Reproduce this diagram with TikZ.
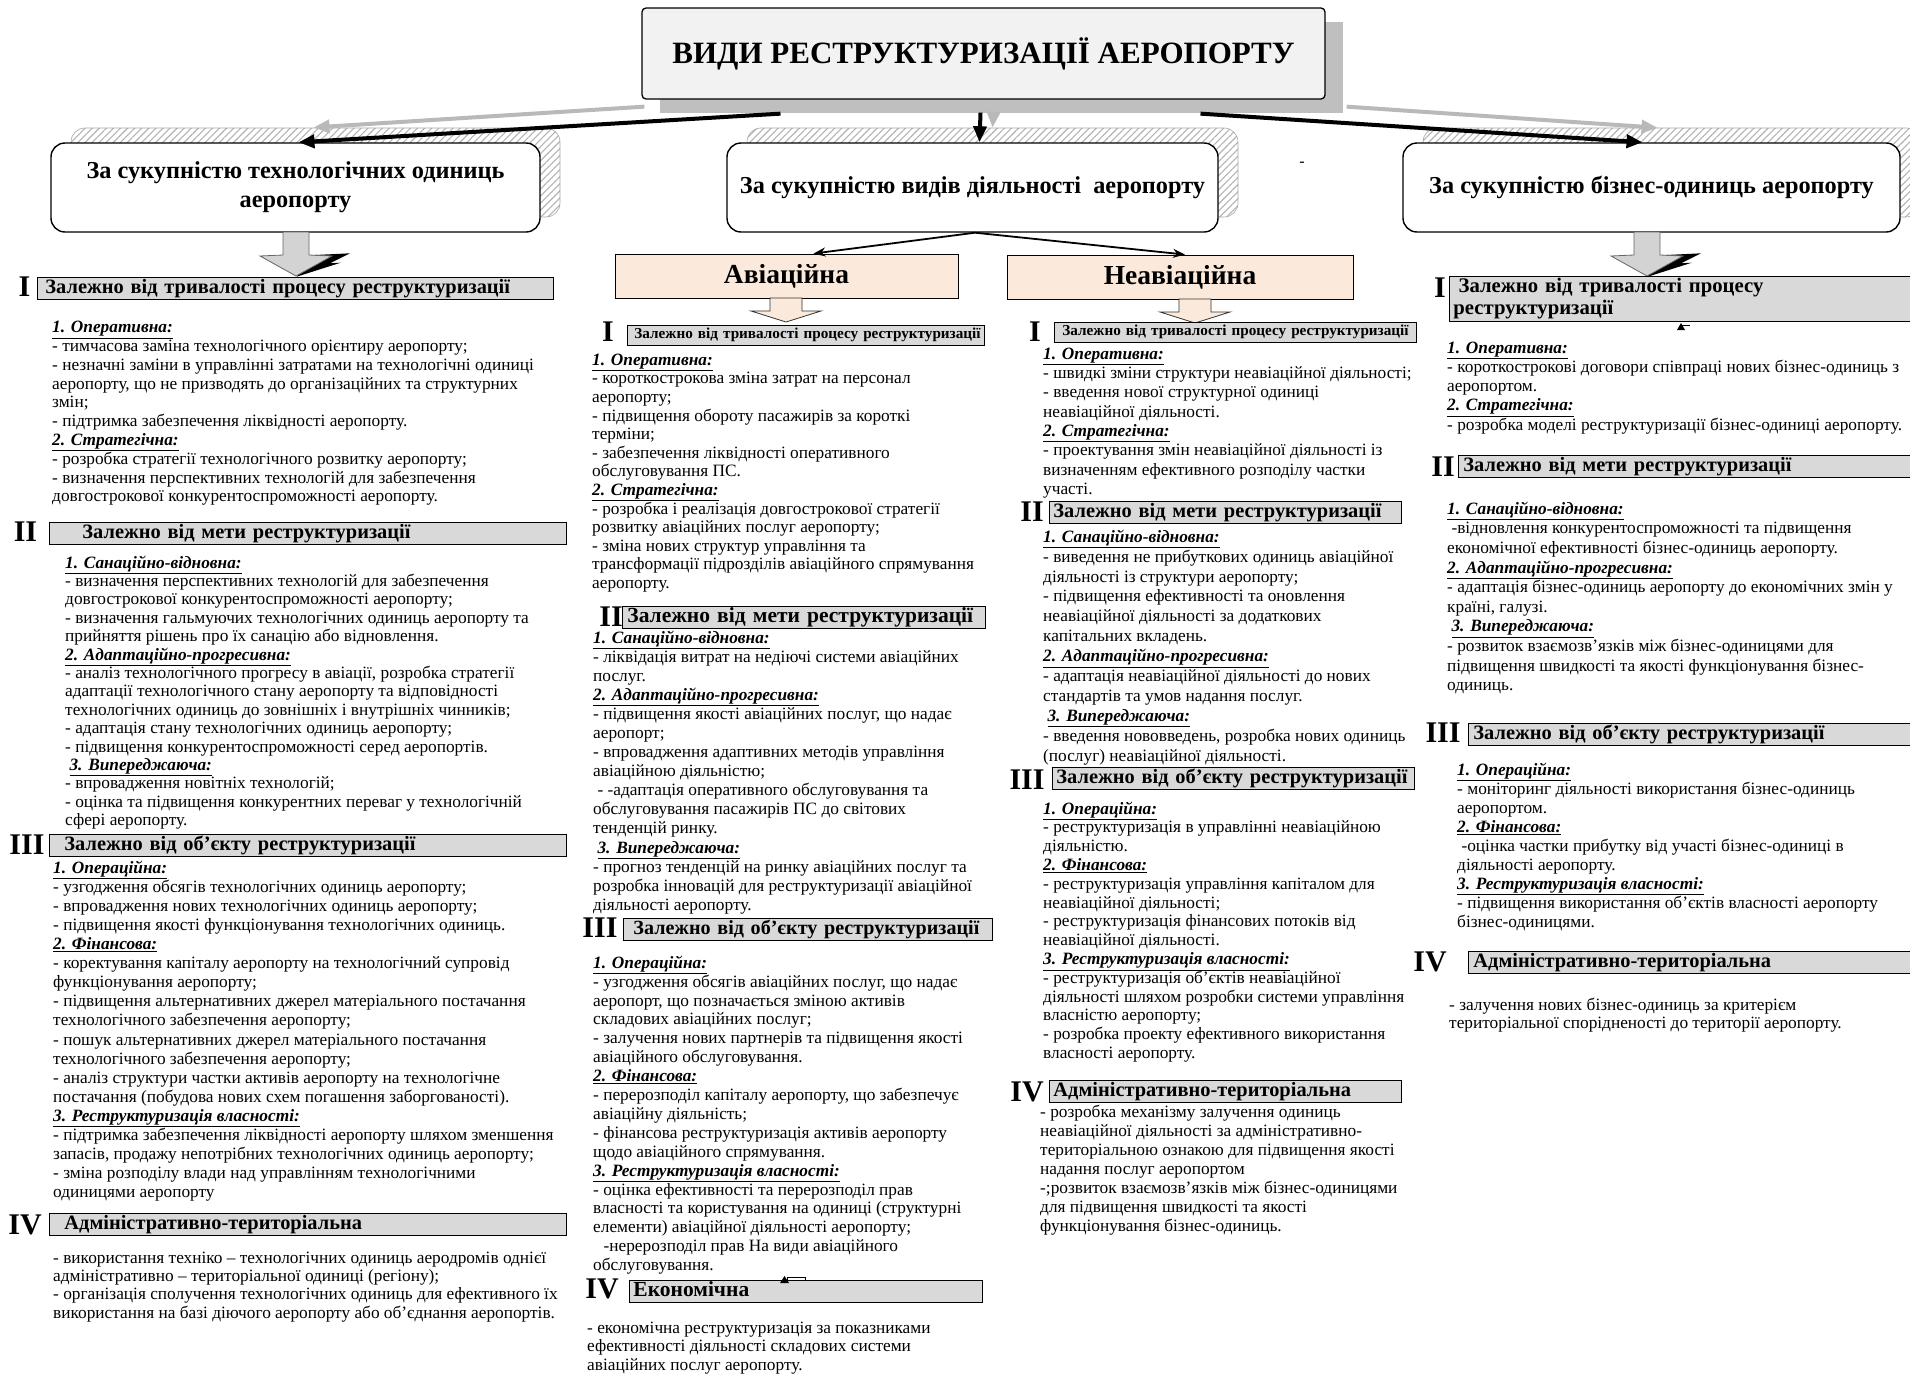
\documentclass[tikz,border=0pt]{standalone}
\usepackage{fontspec}
\setmainfont{Liberation Serif}
\usetikzlibrary{arrows.meta,calc,patterns.meta}
\definecolor{secgray}{HTML}{D9D9D9}
\definecolor{titlefill}{HTML}{F2F2F2}
\definecolor{titleshadow}{HTML}{BFBFBF}
\definecolor{peach}{HTML}{FBEADB}
\definecolor{arrowgray}{HTML}{D3D3D3}
\newcommand\setfs[2]{\fontsize{#1}{#2}\selectfont}
\newcommand\hd[1]{\underline{\textbf{\itshape #1}}}
% gray block arrow with a black bolt: centre x, top y
\newcommand\bolteddown[2]{%
  \fill[black] (#1+13,255.3) -- (#1+54,253.3) -- (#1+34,263.3) -- (#1+44.7,262.7) -- (#1+0.7,276.7) -- cycle;
  \filldraw[fill=arrowgray, draw=black!60, line width=0.8pt]
    (#1-13,#2) -- (#1-13,255) -- (#1-36,256) -- (#1,276) -- (#1+36,256) -- (#1+13,255) -- (#1+13,#2) -- cycle;}
% outlined block arrow below the activity boxes: centre x, top y
\newcommand\hollowdown[2]{%
  \filldraw[fill=peach, draw=black!80, line width=0.8pt]
    (#1-16,#2) -- (#1-16,#2+13) -- (#1-35,#2+13) -- (#1,#2+24) -- (#1+35,#2+13) -- (#1+16,#2+13) -- (#1+16,#2) -- cycle;}
\tikzset{
  titlebox/.style={draw, line width=1.3pt, fill=titlefill, rounded corners=4pt,
    minimum width=683pt, minimum height=91pt, font=\setfs{31}{34}\bfseries},
  titleshade/.style={fill=titleshadow, minimum width=683pt, minimum height=91pt},
  mainbox/.style={draw, line width=1.4pt, fill=white, rounded corners=14pt,
    minimum height=89pt, align=center, font=\setfs{24.3}{29}\bfseries},
  hatchbox/.style={draw=gray!70, line width=0.6pt, rounded corners=14pt, minimum height=89pt,
    pattern={Lines[angle=45,distance=5pt,line width=1.1pt]}, pattern color=gray!60},
  kindbox/.style={draw, line width=0.9pt, fill=peach, minimum height=44pt,
    font=\setfs{27.5}{30}\bfseries},
  secbox/.style={draw, line width=0.9pt, fill=secgray, anchor=north west, inner ysep=0pt,
    align=left, minimum height=22pt, text height=14pt, text depth=4.5pt,
    font=\setfs{20.4}{22}\bfseries},
  smallsec/.style={secbox, minimum height=20pt, text height=10.5pt, text depth=3.5pt,
    font=\setfs{15.2}{17}\bfseries},
  roman/.style={inner sep=0pt, font=\setfs{30}{30}\bfseries},
  body/.style={anchor=north west, inner sep=0pt, align=left},
  blk/.style={line width=4pt, -{Triangle[length=16pt,width=13pt]}},
  gry/.style={line width=4pt, draw=gray!55, -{Triangle[length=16pt,width=13pt]}},
  thin/.style={line width=1.8pt, -{Stealth[length=12pt,width=9pt]}}
}
\begin{document}
\begin{tikzpicture}[x=1pt,y=-1pt]
\useasboundingbox (0,0) rectangle (1910,1373);
\clip (0,0) rectangle (1910,1373);

% ---------- top level ----------
\node[titleshade] (Tsh) at (1001.5,67.5) {};
\node[hatchbox, minimum width=489pt] (Ls) at (315.5,172.5) {};
\node[hatchbox, minimum width=491pt] (Ms) at (992.5,172.5) {};
\node[hatchbox, minimum width=497pt] (Rs) at (1671.5,172.5) {};

\node[titlebox] (T) at (983.5,53.5) {ВИДИ РЕСТРУКТУРИЗАЦІЇ АЕРОПОРТУ};
\node[mainbox, minimum width=489pt] (L) at (295.5,187.5) {За сукупністю технологічних одиниць\\аеропорту};
\node[mainbox, minimum width=491pt] (M) at (972.5,187.5) {За сукупністю видів діяльності\ \ аеропорту};
\node[mainbox, minimum width=497pt] (R) at (1651.5,187.5) {За сукупністю бізнес-одиниць аеропорту};
\node[inner sep=0pt, font=\setfs{16}{16}] (dash) at (1302,164) {-};

\coordinate (gL) at ($(T.south west)+(3,7)$);
\coordinate (gR) at ($(T.south east)+(21,7)$);
\coordinate (bL) at ($(T.south)+(-203,14)$);
\coordinate (bM) at ($(T.south)+(-3,13)$);
\coordinate (gM) at ($(T.south)+(10,13)$);
\coordinate (bR) at ($(T.south)+(217,14)$);

\draw[gry] (gL) -- ($(Ls.north)+(-2,0)$);
\draw[gry] (gR) -- ($(Rs.north)+(-14,0)$);
\draw[gry] (gM) -- (Ms.north);
\draw[blk] (bL) -- ($(L.north)+(3,0)$);
\draw[blk] (bM) -- ($(M.north)+(7,0)$);
\draw[blk] (bR) -- ($(R.north)+(-9,0)$);

% ---------- activity kinds ----------
\node[kindbox, minimum width=343pt] (A) at (786.5,276) {Авіаційна};
\node[kindbox, minimum width=346pt] (N) at (1180,277) {Неавіаційна};
\coordinate (mS) at ($(M.south)+(2.5,0)$);
\draw[thin] (mS) -- ($(A.north)+(27,0)$);
\draw[thin] (mS) -- ($(N.north)+(5,0)$);

\bolteddown{296}{232}
\bolteddown{1647}{232}
\hollowdown{786}{298}
\hollowdown{1195}{299}

% ---------- left column ----------
\node[roman] (lRI) at (24.5,287) {I};
\node[secbox, text width=500pt, inner xsep=8pt] (lI) at (37,277) {\mbox{Залежно від тривалості процесу реструктуризації}};
\node[body, font=\setfs{17.3}{18.8}] (lTI) at (52,319.4) {\strut\hd{1. Оперативна:}\\
- тимчасова заміна технологічного орієнтиру аеропорту;\\
- незначні заміни в управлінні затратами на технологічні одиниці\\
аеропорту, що не призводять до організаційних та структурних\\
змін;\\
- підтримка забезпечення ліквідності аеропорту.\\
\hd{2. Стратегічна:}\\
- розробка стратегії технологічного розвитку аеропорту;\\
- визначення перспективних технологій для забезпечення\\
довгострокової конкурентоспроможності аеропорту.};

\node[roman] (lRII) at (25.5,532) {II};
\node[secbox, text width=451pt, inner xsep=33pt] (lII) at (49,522) {\mbox{Залежно від мети реструктуризації}};
\node[body, font=\setfs{17.3}{18.4}] (lTII) at (65,555.1) {\strut\hd{1. Санаційно-відновна:}\\
- визначення перспективних технологій для забезпечення\\
довгострокової конкурентоспроможності аеропорту;\\
- визначення гальмуючих технологічних одиниць аеропорту та\\
прийняття рішень про їх санацію або відновлення.\\
\hd{2. Адаптаційно-прогресивна:}\\
- аналіз технологічного прогресу в авіації, розробка стратегії\\
адаптації технологічного стану аеропорту та відповідності\\
технологічних одиниць до зовнішніх і внутрішніх чинників;\\
- адаптація стану технологічних одиниць аеропорту;\\
- підвищення конкурентоспроможності серед аеропортів.\\
\hspace*{.25em}\hd{3. Випереджаюча:}\\
- впровадження новітніх технологій;\\
- оцінка та підвищення конкурентних переваг у технологічній\\
сфері аеропорту.};

\node[roman] (lRIII) at (27,845) {III};
\node[secbox, text width=487pt, inner xsep=15pt] (lIII) at (49,834) {\mbox{Залежно від об’єкту реструктуризації}};
\node[body, font=\setfs{17.3}{19.1}] (lTIII) at (53,859.6) {\strut\hd{1. Операційна:}\\
- узгодження обсягів технологічних одиниць аеропорту;\\
- впровадження нових технологічних одиниць аеропорту;\\
- підвищення якості функціонування технологічних одиниць.\\
\hd{2. Фінансова:}\\
- коректування капіталу аеропорту на технологічний супровід\\
функціонування аеропорту;\\
- підвищення альтернативних джерел матеріального постачання\\
технологічного забезпечення аеропорту;\\
- пошук альтернативних джерел матеріального постачання\\
технологічного забезпечення аеропорту;\\
- аналіз структури частки активів аеропорту на технологічне\\
постачання (побудова нових схем погашення заборгованості).\\
\hd{3. Реструктуризація власності:}\\
- підтримка забезпечення ліквідності аеропорту шляхом зменшення\\
запасів, продажу непотрібних технологічних одиниць аеропорту;\\
- зміна розподілу влади над управлінням технологічними\\
одиницями аеропорту};

\node[roman] (lRIV) at (25,1225) {IV};
\node[secbox, text width=487pt, inner xsep=15pt] (lIV) at (49,1213) {\mbox{Адміністративно-територіальна}};
\node[body, font=\setfs{17.3}{18.3}] (lTIV) at (53,1250.2) {\strut - використання техніко – технологічних одиниць аеродромів однієї\\
адміністративно – територіальної одиниці (регіону);\\
- організація сполучення технологічних одиниць для ефективного їх\\
використання на базі діючого аеропорту або об’єднання аеропортів.};

% ---------- aviation column ----------
\node[roman] (aRI) at (608,332) {I};
\node[smallsec, text width=343pt, inner xsep=7pt] (aI) at (627,325) {\mbox{Залежно від тривалості процесу реструктуризації}};
\node[body, font=\setfs{17.3}{18.6}] (aTI) at (592,352) {\strut\hd{1. Оперативна:}\\
- короткострокова зміна затрат на персонал\\
аеропорту;\\
- підвищення обороту пасажирів за короткі\\
терміни;\\
- забезпечення ліквідності оперативного\\
обслуговування ПС.\\
\hd{2. Стратегічна:}\\
- розробка і реалізація довгострокової стратегії\\
розвитку авіаційних послуг аеропорту;\\
- зміна нових структур управління та\\
трансформації підрозділів авіаційного спрямування\\
аеропорту.};

\node[roman] (aRII) at (611,617) {II};
\node[secbox, text width=353pt, inner xsep=5pt, font=\setfs{21.5}{22}\bfseries] (aII) at (622,606) {\mbox{Залежно від мети реструктуризації}};
\node[body, font=\setfs{17.3}{19.07}] (aTII) at (593,629.7) {\strut\hd{1. Санаційно-відновна:}\\
- ліквідація витрат на недіючі системи авіаційних\\
послуг.\\
\hd{2. Адаптаційно-прогресивна:}\\
- підвищення якості авіаційних послуг, що надає\\
аеропорт;\\
- впровадження адаптивних методів управління\\
авіаційною діяльністю;\\
\hspace*{.25em}- -адаптація оперативного обслуговування та\\
обслуговування пасажирів ПС до світових\\
тенденцій ринку.\\
\hspace*{.25em}\hd{3. Випереджаюча:}\\
- прогноз тенденцій на ринку авіаційних послуг та\\
розробка інновацій для реструктуризації авіаційної\\
діяльності аеропорту.};

\node[roman] (aRIII) at (600,928) {III};
\node[secbox, text width=349pt, inner xsep=10pt, font=\setfs{20.1}{22}\bfseries] (aIII) at (623,918) {\mbox{Залежно від об’єкту реструктуризації}};
\node[body, font=\setfs{17.3}{18.9}] (aTIII) at (593,954.8) {\strut\hd{1. Операційна:}\\
- узгодження обсягів авіаційних послуг, що надає\\
аеропорт, що позначається зміною активів\\
складових авіаційних послуг;\\
- залучення нових партнерів та підвищення якості\\
авіаційного обслуговування.\\
\hd{2. Фінансова:}\\
- перерозподіл капіталу аеропорту, що забезпечує\\
авіаційну діяльність;\\
- фінансова реструктуризація активів аеропорту\\
щодо авіаційного спрямування.\\
\hd{3. Реструктуризація власності:}\\
- оцінка ефективності та перерозподіл прав\\
власності та користування на одиниці (структурні\\
елементи) авіаційної діяльності аеропорту;\\
\hspace*{.6em}-нерерозподіл прав На види авіаційного\\
обслуговування.};

\node[roman] (aRIV) at (602,1289) {IV};
\node[secbox, text width=345pt, inner xsep=4pt, font=\setfs{21.5}{22}\bfseries] (aIV) at (629,1280) {\mbox{Економічна}};
\fill (780,1283) -- (784.5,1276) -- (789,1283) -- cycle;
\draw[line width=0.6pt] (787,1277) rectangle (805,1280.5);
\node[body, font=\setfs{17.3}{18.5}] (aTIV) at (587,1320) {\strut - економічна реструктуризація за показниками\\
ефективності діяльності складових системи\\
авіаційних послуг аеропорту.};

% ---------- non-aviation column ----------
\node[roman] (nRI) at (1035,332) {I};
\node[smallsec, text width=346pt, inner xsep=8pt] (nI) at (1054,322) {\mbox{Залежно від тривалості процесу реструктуризації}};
\node[body, font=\setfs{17.3}{19.3}] (nTI) at (1043,345.5) {\strut\hd{1. Оперативна:}\\
- швидкі зміни структури неавіаційної діяльності;\\
- введення нової структурної одиниці\\
неавіаційної діяльності.\\
\hd{2. Стратегічна:}\\
- проектування змін неавіаційної діяльності із\\
визначенням ефективного розподілу частки\\
участі.};

\node[roman] (nRII) at (1032,512) {II};
\node[secbox, text width=344pt, inner xsep=4pt] (nII) at (1049,501) {\mbox{Залежно від мети реструктуризації}};
\node[body, font=\setfs{17.3}{19.9}] (nTII) at (1043,528.1) {\strut\hd{1. Санаційно-відновна:}\\
- виведення не прибуткових одиниць авіаційної\\
діяльності із структури аеропорту;\\
- підвищення ефективності та оновлення\\
неавіаційної діяльності за додаткових\\
капітальних вкладень.\\
\hd{2. Адаптаційно-прогресивна:}\\
- адаптація неавіаційної діяльності до нових\\
стандартів та умов надання послуг.\\
\hspace*{.25em}\hd{3. Випереджаюча:}\\
- введення нововведень, розробка нових одиниць\\
(послуг) неавіаційної діяльності.};

\node[roman] (nRIII) at (1027,780) {III};
\node[secbox, text width=354pt, inner xsep=4pt] (nIII) at (1052,767) {\mbox{Залежно від об’єкту реструктуризації}};
\node[body, font=\setfs{17.3}{18.8}] (nTIII) at (1043,800.8) {\strut\hd{1. Операційна:}\\
- реструктуризація в управлінні неавіаційною\\
діяльністю.\\
\hd{2. Фінансова:}\\
- реструктуризація управління капіталом для\\
неавіаційної діяльності;\\
- реструктуризація фінансових потоків від\\
неавіаційної діяльності.\\
\hd{3. Реструктуризація власності:}\\
- реструктуризація об’єктів неавіаційної\\
діяльності шляхом розробки системи управління\\
власністю аеропорту;\\
- розробка проекту ефективного використання\\
власності аеропорту.};

\node[roman] (nRIV) at (1027,1091.7) {IV};
\node[secbox, text width=344pt, inner xsep=4pt] (nIV) at (1049,1080) {\mbox{Адміністративно-територіальна}};
\node[body, font=\setfs{17.3}{19.1}] (nTIV) at (1040,1103.6) {\strut - розробка механізму залучення одиниць\\
неавіаційної діяльності за адміністративно-\\
територіальною ознакою для підвищення якості\\
надання послуг аеропортом\\
-;розвиток взаємозв’язків між бізнес-одиницями\\
для підвищення швидкості та якості\\
функціонування бізнес-одиниць.};

% ---------- business-unit column ----------
\node[roman] (rRI) at (1440,288) {I};
\node[secbox, text width=455pt, inner xsep=4pt, minimum height=45pt, text height=, text depth=,
  font=\setfs{20.7}{22}\bfseries] (rI) at (1449,276) {\hspace*{.25em}Залежно від тривалості процесу\\реструктуризації};
\fill (1677,330) -- (1681,323) -- (1685,330) -- cycle;
\draw[line width=0.6pt] (1681,325.5) -- (1690,325.5);
\node[body, font=\setfs{17.3}{19.2}] (rTI) at (1447,339.6) {\strut\hd{1. Оперативна:}\\
- короткострокові договори співпраці нових бізнес-одиниць з\\
аеропортом.\\
\hd{2. Стратегічна:}\\
- розробка моделі реструктуризації бізнес-одиниці аеропорту.};

\node[roman] (rRII) at (1443,467) {II};
\node[secbox, text width=444pt, inner xsep=5pt] (rII) at (1458,455) {\mbox{Залежно від мети реструктуризації}};
\node[body, font=\setfs{17.3}{19.6}] (rTII) at (1447,500.3) {\strut\hd{1. Санаційно-відновна:}\\
\hspace*{.25em}-відновлення конкурентоспроможності та підвищення\\
економічної ефективності бізнес-одиниць аеропорту.\\
\hd{2. Адаптаційно-прогресивна:}\\
- адаптація бізнес-одиниць аеропорту до економічних змін у\\
країні, галузі.\\
\hspace*{.25em}\hd{3. Випереджаюча:}\\
- розвиток взаємозв’язків між бізнес-одиницями для\\
підвищення швидкості та якості функціонування бізнес-\\
одиниць.};

\node[roman] (rRIII) at (1443,733) {III};
\node[secbox, text width=434pt, inner xsep=5pt] (rIII) at (1468,723) {\mbox{Залежно від об’єкту реструктуризації}};
\node[body, font=\setfs{17.3}{19}] (rTIII) at (1457,761.7) {\strut\hd{1. Операційна:}\\
- моніторинг діяльності використання бізнес-одиниць\\
аеропортом.\\
\hd{2. Фінансова:}\\
\hspace*{.25em}-оцінка частки прибутку від участі бізнес-одиниці в\\
діяльності аеропорту.\\
\hd{3. Реструктуризація власності:}\\
- підвищення використання об'єктів власності аеропорту\\
бізнес-одиницями.};

\node[roman] (rRIV) at (1430,962) {IV};
\node[secbox, text width=434pt, inner xsep=5pt] (rIV) at (1468,951) {\mbox{Адміністративно-територіальна}};
\node[body, font=\setfs{17.3}{18}] (rTIV) at (1449,997.4) {\strut - залучення нових бізнес-одиниць за критерієм\\
територіальної спорідненості до території аеропорту.};
\end{tikzpicture}
\end{document}
